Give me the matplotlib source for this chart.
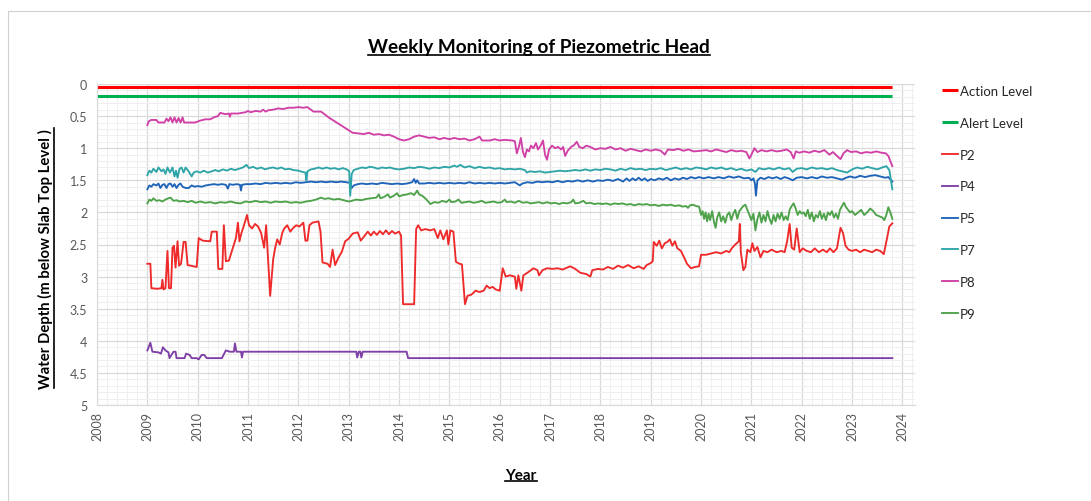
import matplotlib
matplotlib.use("Agg")
import matplotlib.pyplot as plt
from matplotlib.ticker import MultipleLocator
from matplotlib.lines import Line2D
from matplotlib.patches import Rectangle

plt.rcParams['font.family'] = ['Lato', 'DejaVu Sans']

# ---------------- data ----------------
action_years = [2008.0, 2023.8]
action_level = [0.04, 0.04]
alert_years = [2008.0, 2023.8]
alert_level = [0.18, 0.18]

P2 = [(2009.00,2.80),(2009.06,2.80),(2009.08,3.18),(2009.20,3.19),(2009.28,3.18),(2009.30,3.05),(2009.32,3.20),(2009.36,3.18),(2009.40,2.60),(2009.43,3.18),(2009.47,3.18),(2009.50,2.55),(2009.53,2.52),(2009.56,2.86),(2009.60,2.45),(2009.63,2.83),(2009.67,2.80),(2009.72,2.46),(2009.76,2.46),(2009.80,2.82),(2009.86,2.83),(2009.93,2.84),(2009.98,2.85),(2010.02,2.40),(2010.10,2.44),(2010.25,2.45),(2010.28,2.30),(2010.38,2.30),(2010.41,2.88),(2010.49,2.88),(2010.52,2.20),(2010.56,2.76),(2010.62,2.75),(2010.66,2.65),(2010.72,2.50),(2010.76,2.40),(2010.80,2.16),(2010.83,2.45),(2010.87,2.32),(2010.92,2.20),(2010.98,2.04),(2011.02,2.20),(2011.08,2.25),(2011.14,2.18),(2011.20,2.22),(2011.26,2.32),(2011.32,2.55),(2011.36,2.20),(2011.44,3.30),(2011.50,2.73),(2011.54,2.55),(2011.58,2.42),(2011.63,2.50),(2011.68,2.32),(2011.72,2.25),(2011.78,2.20),(2011.84,2.30),(2011.90,2.24),(2011.96,2.20),(2012.02,2.22),(2012.10,2.16),(2012.14,2.44),(2012.18,2.44),(2012.22,2.20),(2012.28,2.16),(2012.40,2.14),(2012.44,2.30),(2012.48,2.78),(2012.58,2.80),(2012.63,2.85),(2012.68,2.58),(2012.73,2.82),(2012.80,2.70),(2012.86,2.62),(2012.93,2.45),(2013.00,2.41),(2013.08,2.33),(2013.18,2.31),(2013.24,2.44),(2013.32,2.36),(2013.38,2.30),(2013.44,2.36),(2013.50,2.30),(2013.56,2.35),(2013.62,2.29),(2013.68,2.34),(2013.74,2.28),(2013.80,2.34),(2013.86,2.29),(2013.92,2.33),(2014.00,2.30),(2014.04,2.36),(2014.08,3.43),(2014.30,3.43),(2014.34,2.26),(2014.38,2.20),(2014.44,2.28),(2014.52,2.26),(2014.62,2.28),(2014.70,2.26),(2014.77,2.40),(2014.82,2.28),(2014.88,2.42),(2014.95,2.28),(2014.98,2.50),(2015.02,2.28),(2015.08,2.30),(2015.13,2.77),(2015.20,2.80),(2015.25,2.81),(2015.31,3.43),(2015.36,3.30),(2015.44,3.28),(2015.52,3.22),(2015.60,3.24),(2015.68,3.22),(2015.74,3.14),(2015.80,3.18),(2015.86,3.16),(2015.92,3.20),(2016.00,3.22),(2016.06,2.87),(2016.12,3.00),(2016.20,2.98),(2016.30,3.00),(2016.33,3.19),(2016.37,2.98),(2016.43,3.22),(2016.47,2.98),(2016.55,2.94),(2016.67,2.87),(2016.75,2.90),(2016.78,2.98),(2016.85,2.90),(2016.94,2.87),(2017.05,2.88),(2017.15,2.87),(2017.25,2.89),(2017.40,2.84),(2017.50,2.88),(2017.60,2.94),(2017.72,2.96),(2017.80,3.00),(2017.84,2.90),(2017.95,2.88),(2018.05,2.89),(2018.15,2.85),(2018.25,2.88),(2018.35,2.83),(2018.45,2.86),(2018.55,2.82),(2018.66,2.87),(2018.76,2.84),(2018.86,2.88),(2018.92,2.82),(2019.00,2.79),(2019.04,2.76),(2019.06,2.46),(2019.12,2.52),(2019.17,2.44),(2019.22,2.56),(2019.28,2.48),(2019.33,2.46),(2019.38,2.42),(2019.43,2.52),(2019.48,2.45),(2019.53,2.56),(2019.60,2.60),(2019.65,2.68),(2019.72,2.80),(2019.80,2.87),(2019.88,2.85),(2019.96,2.84),(2020.00,2.66),(2020.10,2.66),(2020.20,2.64),(2020.30,2.62),(2020.40,2.64),(2020.50,2.60),(2020.56,2.62),(2020.62,2.55),(2020.68,2.50),(2020.75,2.45),(2020.77,2.18),(2020.79,2.62),(2020.84,2.90),(2020.88,2.85),(2020.92,2.58),(2020.98,2.62),(2021.02,2.48),(2021.06,2.60),(2021.12,2.54),(2021.18,2.70),(2021.24,2.60),(2021.32,2.62),(2021.40,2.58),(2021.50,2.62),(2021.60,2.60),(2021.66,2.62),(2021.71,2.45),(2021.76,2.18),(2021.80,2.55),(2021.85,2.58),(2021.90,2.25),(2021.96,2.62),(2022.02,2.56),(2022.10,2.60),(2022.18,2.62),(2022.26,2.56),(2022.34,2.62),(2022.42,2.58),(2022.50,2.62),(2022.56,2.56),(2022.63,2.62),(2022.70,2.56),(2022.77,2.24),(2022.82,2.32),(2022.87,2.52),(2022.93,2.58),(2023.00,2.60),(2023.08,2.58),(2023.16,2.62),(2023.24,2.58),(2023.32,2.60),(2023.40,2.62),(2023.48,2.58),(2023.56,2.60),(2023.63,2.65),(2023.67,2.50),(2023.70,2.38),(2023.74,2.22),(2023.80,2.17)]

P4 = [(2009.00,4.15),(2009.06,4.03),(2009.10,4.17),(2009.22,4.18),(2009.27,4.20),(2009.31,4.10),(2009.36,4.15),(2009.42,4.18),(2009.44,4.27),(2009.48,4.22),(2009.52,4.17),(2009.56,4.17),(2009.58,4.27),(2009.74,4.27),(2009.77,4.20),(2009.84,4.22),(2009.88,4.27),(2009.98,4.27),(2010.02,4.29),(2010.08,4.22),(2010.13,4.22),(2010.18,4.27),(2010.48,4.27),(2010.56,4.15),(2010.64,4.17),(2010.72,4.17),(2010.74,4.04),(2010.77,4.17),(2010.86,4.17),(2010.88,4.26),(2010.90,4.17),(2013.15,4.17),(2013.17,4.26),(2013.20,4.17),(2013.23,4.17),(2013.25,4.26),(2013.28,4.17),(2014.15,4.17),(2014.18,4.27),(2023.80,4.27)]

P5 = [(2009.00,1.64),(2009.04,1.58),(2009.08,1.60),(2009.12,1.56),(2009.18,1.58),(2009.22,1.55),(2009.26,1.62),(2009.30,1.57),(2009.34,1.56),(2009.38,1.62),(2009.42,1.56),(2009.46,1.55),(2009.50,1.60),(2009.54,1.56),(2009.58,1.62),(2009.62,1.57),(2009.66,1.55),(2009.70,1.60),(2009.76,1.62),(2009.82,1.62),(2009.88,1.58),(2009.94,1.60),(2010.00,1.59),(2010.08,1.60),(2010.16,1.58),(2010.24,1.57),(2010.32,1.56),(2010.40,1.57),(2010.48,1.56),(2010.56,1.57),(2010.60,1.63),(2010.63,1.56),(2010.70,1.57),(2010.78,1.56),(2010.84,1.57),(2010.86,1.66),(2010.88,1.57),(2010.96,1.56),(2011.05,1.56),(2011.15,1.55),(2011.25,1.56),(2011.35,1.54),(2011.45,1.55),(2011.55,1.54),(2011.65,1.55),(2011.75,1.54),(2011.85,1.55),(2011.95,1.53),(2012.05,1.54),(2012.15,1.53),(2012.25,1.52),(2012.35,1.53),(2012.45,1.52),(2012.55,1.53),(2012.65,1.52),(2012.75,1.53),(2012.85,1.52),(2012.95,1.53),(2013.03,1.54),(2013.06,1.62),(2013.10,1.58),(2013.18,1.56),(2013.26,1.55),(2013.36,1.56),(2013.46,1.55),(2013.56,1.56),(2013.66,1.54),(2013.76,1.55),(2013.86,1.56),(2013.96,1.55),(2014.06,1.56),(2014.16,1.55),(2014.26,1.53),(2014.30,1.48),(2014.33,1.54),(2014.36,1.50),(2014.40,1.55),(2014.50,1.55),(2014.60,1.54),(2014.70,1.55),(2014.80,1.54),(2014.90,1.55),(2015.00,1.54),(2015.10,1.55),(2015.20,1.54),(2015.30,1.55),(2015.40,1.53),(2015.50,1.55),(2015.60,1.54),(2015.70,1.55),(2015.80,1.54),(2015.90,1.55),(2016.00,1.54),(2016.10,1.55),(2016.20,1.54),(2016.30,1.53),(2016.40,1.58),(2016.45,1.55),(2016.55,1.53),(2016.65,1.54),(2016.75,1.52),(2016.85,1.53),(2016.95,1.52),(2017.05,1.53),(2017.15,1.51),(2017.25,1.53),(2017.35,1.51),(2017.45,1.52),(2017.55,1.50),(2017.65,1.52),(2017.75,1.50),(2017.85,1.52),(2017.95,1.50),(2018.05,1.51),(2018.15,1.49),(2018.25,1.51),(2018.35,1.48),(2018.45,1.52),(2018.52,1.47),(2018.58,1.51),(2018.64,1.47),(2018.70,1.50),(2018.76,1.46),(2018.82,1.50),(2018.88,1.47),(2018.94,1.51),(2019.00,1.48),(2019.08,1.50),(2019.16,1.47),(2019.24,1.49),(2019.32,1.46),(2019.40,1.50),(2019.48,1.47),(2019.56,1.49),(2019.64,1.46),(2019.72,1.48),(2019.80,1.45),(2019.88,1.47),(2019.96,1.45),(2020.05,1.47),(2020.15,1.45),(2020.25,1.47),(2020.35,1.45),(2020.45,1.47),(2020.55,1.44),(2020.65,1.46),(2020.75,1.44),(2020.85,1.47),(2020.95,1.46),(2021.00,1.50),(2021.04,1.47),(2021.07,1.55),(2021.09,1.74),(2021.12,1.50),(2021.18,1.46),(2021.26,1.48),(2021.34,1.45),(2021.42,1.47),(2021.50,1.45),(2021.58,1.48),(2021.66,1.45),(2021.74,1.47),(2021.82,1.50),(2021.90,1.46),(2022.00,1.45),(2022.10,1.47),(2022.20,1.45),(2022.30,1.47),(2022.40,1.44),(2022.50,1.46),(2022.60,1.45),(2022.70,1.47),(2022.80,1.49),(2022.88,1.46),(2022.96,1.44),(2023.06,1.46),(2023.16,1.43),(2023.26,1.45),(2023.36,1.43),(2023.46,1.42),(2023.56,1.44),(2023.66,1.46),(2023.72,1.45),(2023.80,1.52)]

P7 = [(2009.00,1.42),(2009.04,1.35),(2009.08,1.38),(2009.12,1.32),(2009.18,1.37),(2009.22,1.30),(2009.28,1.36),(2009.32,1.33),(2009.36,1.40),(2009.40,1.30),(2009.45,1.38),(2009.50,1.30),(2009.54,1.44),(2009.57,1.35),(2009.60,1.46),(2009.64,1.32),(2009.68,1.30),(2009.72,1.38),(2009.76,1.30),(2009.82,1.36),(2009.88,1.44),(2009.92,1.38),(2009.98,1.36),(2010.05,1.38),(2010.12,1.35),(2010.20,1.38),(2010.28,1.36),(2010.35,1.34),(2010.42,1.36),(2010.50,1.33),(2010.58,1.35),(2010.66,1.32),(2010.74,1.34),(2010.82,1.32),(2010.90,1.30),(2010.97,1.26),(2011.02,1.31),(2011.10,1.29),(2011.18,1.32),(2011.26,1.30),(2011.34,1.33),(2011.42,1.31),(2011.50,1.30),(2011.58,1.32),(2011.66,1.30),(2011.74,1.33),(2011.82,1.32),(2011.90,1.34),(2012.00,1.35),(2012.08,1.37),(2012.14,1.38),(2012.16,1.50),(2012.18,1.36),(2012.25,1.33),(2012.32,1.32),(2012.40,1.30),(2012.48,1.32),(2012.56,1.30),(2012.64,1.32),(2012.72,1.31),(2012.80,1.33),(2012.88,1.31),(2012.96,1.33),(2013.01,1.36),(2013.03,1.74),(2013.06,1.40),(2013.10,1.34),(2013.18,1.32),(2013.26,1.30),(2013.34,1.31),(2013.42,1.29),(2013.50,1.30),(2013.58,1.32),(2013.66,1.30),(2013.74,1.31),(2013.82,1.30),(2013.90,1.32),(2014.00,1.33),(2014.10,1.32),(2014.20,1.30),(2014.30,1.31),(2014.40,1.29),(2014.50,1.30),(2014.60,1.32),(2014.70,1.30),(2014.80,1.31),(2014.90,1.29),(2015.00,1.30),(2015.10,1.27),(2015.15,1.29),(2015.22,1.26),(2015.30,1.30),(2015.40,1.28),(2015.50,1.31),(2015.60,1.29),(2015.70,1.31),(2015.80,1.30),(2015.90,1.32),(2016.00,1.31),(2016.10,1.33),(2016.20,1.32),(2016.30,1.33),(2016.40,1.32),(2016.50,1.34),(2016.54,1.38),(2016.60,1.36),(2016.70,1.37),(2016.80,1.36),(2016.90,1.38),(2017.00,1.37),(2017.10,1.36),(2017.20,1.35),(2017.30,1.36),(2017.40,1.35),(2017.50,1.34),(2017.60,1.35),(2017.70,1.33),(2017.80,1.35),(2017.90,1.33),(2018.00,1.34),(2018.10,1.32),(2018.20,1.33),(2018.30,1.35),(2018.40,1.32),(2018.50,1.34),(2018.60,1.31),(2018.70,1.33),(2018.80,1.32),(2018.90,1.34),(2019.00,1.32),(2019.10,1.33),(2019.20,1.31),(2019.30,1.34),(2019.40,1.32),(2019.50,1.30),(2019.60,1.33),(2019.70,1.31),(2019.80,1.33),(2019.90,1.30),(2020.00,1.31),(2020.10,1.33),(2020.20,1.30),(2020.30,1.32),(2020.40,1.30),(2020.50,1.33),(2020.60,1.31),(2020.70,1.34),(2020.80,1.32),(2020.90,1.35),(2021.00,1.33),(2021.08,1.37),(2021.15,1.31),(2021.25,1.33),(2021.35,1.31),(2021.45,1.33),(2021.55,1.30),(2021.65,1.33),(2021.75,1.31),(2021.82,1.37),(2021.90,1.32),(2022.00,1.31),(2022.10,1.33),(2022.20,1.30),(2022.30,1.32),(2022.40,1.31),(2022.50,1.33),(2022.60,1.31),(2022.70,1.34),(2022.80,1.36),(2022.90,1.38),(2023.00,1.33),(2023.10,1.30),(2023.20,1.32),(2023.30,1.29),(2023.40,1.31),(2023.50,1.33),(2023.60,1.30),(2023.68,1.28),(2023.74,1.34),(2023.80,1.64)]

P8 = [(2009.00,0.64),(2009.03,0.58),(2009.08,0.56),(2009.18,0.56),(2009.22,0.60),(2009.34,0.60),(2009.38,0.54),(2009.42,0.58),(2009.46,0.52),(2009.50,0.60),(2009.54,0.52),(2009.58,0.60),(2009.62,0.53),(2009.66,0.60),(2009.70,0.52),(2009.73,0.60),(2009.95,0.60),(2010.05,0.57),(2010.15,0.55),(2010.25,0.55),(2010.32,0.52),(2010.40,0.50),(2010.45,0.45),(2010.55,0.47),(2010.62,0.46),(2010.64,0.51),(2010.66,0.46),(2010.80,0.46),(2010.95,0.44),(2011.00,0.42),(2011.05,0.44),(2011.15,0.42),(2011.25,0.43),(2011.30,0.40),(2011.35,0.43),(2011.40,0.41),(2011.50,0.40),(2011.60,0.38),(2011.70,0.39),(2011.80,0.37),(2011.90,0.37),(2012.00,0.36),(2012.10,0.37),(2012.18,0.36),(2012.25,0.40),(2012.30,0.43),(2012.45,0.43),(2012.52,0.47),(2012.60,0.52),(2012.70,0.57),(2012.80,0.62),(2012.90,0.67),(2013.00,0.72),(2013.08,0.76),(2013.20,0.77),(2013.30,0.78),(2013.40,0.76),(2013.50,0.79),(2013.60,0.78),(2013.70,0.80),(2013.80,0.79),(2013.90,0.82),(2014.00,0.86),(2014.10,0.88),(2014.20,0.86),(2014.30,0.82),(2014.40,0.80),(2014.50,0.82),(2014.60,0.84),(2014.70,0.83),(2014.80,0.86),(2014.90,0.84),(2015.00,0.86),(2015.10,0.84),(2015.20,0.86),(2015.30,0.85),(2015.40,0.88),(2015.50,0.86),(2015.60,0.82),(2015.65,0.88),(2015.80,0.88),(2015.90,0.86),(2016.00,0.88),(2016.10,0.87),(2016.25,0.88),(2016.30,0.89),(2016.34,1.08),(2016.38,0.98),(2016.42,0.84),(2016.46,1.05),(2016.50,1.14),(2016.54,1.02),(2016.58,1.05),(2016.62,0.96),(2016.67,1.00),(2016.72,0.92),(2016.76,1.02),(2016.82,0.95),(2016.86,0.88),(2016.90,1.10),(2016.94,1.18),(2016.98,1.02),(2017.04,0.96),(2017.10,1.00),(2017.16,0.98),(2017.22,1.02),(2017.26,0.98),(2017.30,1.12),(2017.35,1.04),(2017.42,0.98),(2017.48,0.95),(2017.53,0.90),(2017.58,0.98),(2017.65,1.00),(2017.72,0.96),(2017.80,0.98),(2017.90,1.02),(2018.00,1.00),(2018.10,1.01),(2018.20,0.98),(2018.30,1.02),(2018.40,1.00),(2018.50,1.04),(2018.60,1.01),(2018.70,1.03),(2018.80,1.05),(2018.90,1.02),(2019.00,1.04),(2019.10,1.02),(2019.20,1.04),(2019.28,1.10),(2019.34,1.02),(2019.45,1.03),(2019.55,1.01),(2019.65,1.04),(2019.75,1.02),(2019.85,1.05),(2020.00,1.04),(2020.10,1.03),(2020.20,1.05),(2020.30,1.02),(2020.40,1.04),(2020.50,1.06),(2020.60,1.03),(2020.70,1.05),(2020.80,1.04),(2020.90,1.06),(2020.96,1.16),(2021.00,1.10),(2021.06,1.00),(2021.12,1.06),(2021.20,1.03),(2021.30,1.05),(2021.40,1.03),(2021.50,1.05),(2021.60,1.04),(2021.70,1.02),(2021.78,1.06),(2021.84,1.16),(2021.88,1.05),(2021.95,1.07),(2022.05,1.05),(2022.15,1.07),(2022.25,1.04),(2022.35,1.06),(2022.45,1.03),(2022.55,1.10),(2022.62,1.06),(2022.70,1.12),(2022.77,1.17),(2022.83,1.08),(2022.90,1.03),(2022.98,1.06),(2023.08,1.05),(2023.18,1.08),(2023.28,1.06),(2023.38,1.07),(2023.48,1.05),(2023.58,1.07),(2023.67,1.08),(2023.72,1.12),(2023.76,1.20),(2023.80,1.28)]

P9 = [(2009.00,1.86),(2009.04,1.80),(2009.08,1.82),(2009.12,1.78),(2009.18,1.82),(2009.24,1.81),(2009.30,1.83),(2009.36,1.80),(2009.42,1.78),(2009.46,1.77),(2009.52,1.82),(2009.58,1.81),(2009.64,1.83),(2009.72,1.82),(2009.80,1.84),(2009.88,1.82),(2009.96,1.85),(2010.05,1.83),(2010.15,1.85),(2010.25,1.84),(2010.35,1.86),(2010.45,1.84),(2010.55,1.85),(2010.65,1.83),(2010.75,1.85),(2010.85,1.86),(2010.95,1.83),(2011.05,1.84),(2011.15,1.82),(2011.25,1.84),(2011.35,1.83),(2011.45,1.85),(2011.55,1.83),(2011.65,1.84),(2011.75,1.83),(2011.85,1.85),(2011.95,1.84),(2012.05,1.85),(2012.15,1.83),(2012.25,1.82),(2012.35,1.80),(2012.45,1.77),(2012.52,1.79),(2012.60,1.78),(2012.70,1.80),(2012.80,1.79),(2012.90,1.81),(2013.00,1.83),(2013.06,1.82),(2013.15,1.80),(2013.25,1.81),(2013.35,1.79),(2013.45,1.78),(2013.55,1.77),(2013.60,1.72),(2013.63,1.78),(2013.70,1.76),(2013.78,1.72),(2013.82,1.77),(2013.90,1.74),(2013.96,1.70),(2014.00,1.75),(2014.08,1.73),(2014.16,1.72),(2014.24,1.70),(2014.30,1.73),(2014.36,1.66),(2014.40,1.72),(2014.46,1.74),(2014.52,1.78),(2014.58,1.83),(2014.62,1.87),(2014.70,1.84),(2014.78,1.85),(2014.86,1.82),(2014.94,1.84),(2015.00,1.80),(2015.04,1.84),(2015.12,1.83),(2015.18,1.80),(2015.24,1.85),(2015.32,1.84),(2015.40,1.83),(2015.48,1.85),(2015.56,1.84),(2015.64,1.82),(2015.72,1.85),(2015.80,1.84),(2015.88,1.83),(2015.96,1.85),(2016.04,1.84),(2016.10,1.80),(2016.14,1.84),(2016.22,1.83),(2016.30,1.85),(2016.38,1.82),(2016.46,1.85),(2016.54,1.84),(2016.62,1.86),(2016.70,1.85),(2016.78,1.84),(2016.86,1.86),(2016.94,1.84),(2017.02,1.86),(2017.10,1.85),(2017.18,1.87),(2017.26,1.85),(2017.34,1.86),(2017.42,1.84),(2017.46,1.80),(2017.50,1.86),(2017.58,1.85),(2017.66,1.82),(2017.72,1.86),(2017.80,1.85),(2017.88,1.87),(2017.96,1.86),(2018.04,1.87),(2018.12,1.86),(2018.20,1.88),(2018.28,1.86),(2018.36,1.87),(2018.44,1.86),(2018.52,1.88),(2018.60,1.87),(2018.68,1.89),(2018.76,1.87),(2018.84,1.88),(2018.92,1.87),(2019.00,1.89),(2019.08,1.88),(2019.16,1.90),(2019.24,1.88),(2019.32,1.89),(2019.40,1.88),(2019.48,1.90),(2019.56,1.89),(2019.64,1.91),(2019.70,1.90),(2019.74,1.93),(2019.78,1.89),(2019.84,1.88),(2019.90,1.90),(2019.96,1.91),(2020.00,2.04),(2020.03,1.98),(2020.06,2.10),(2020.09,2.00),(2020.12,2.14),(2020.15,2.02),(2020.18,2.12),(2020.22,1.98),(2020.26,2.16),(2020.29,2.24),(2020.32,2.08),(2020.36,2.00),(2020.40,2.14),(2020.44,2.06),(2020.48,2.16),(2020.52,2.04),(2020.56,2.00),(2020.60,2.12),(2020.64,2.02),(2020.68,1.96),(2020.72,2.10),(2020.76,1.98),(2020.80,1.94),(2020.84,1.90),(2020.88,1.88),(2020.92,1.96),(2020.96,2.04),(2021.00,2.12),(2021.04,2.02),(2021.08,2.28),(2021.12,2.10),(2021.16,2.00),(2021.20,2.16),(2021.24,2.04),(2021.28,2.14),(2021.32,1.98),(2021.36,2.10),(2021.40,2.18),(2021.44,2.04),(2021.48,2.14),(2021.52,2.02),(2021.56,2.10),(2021.60,2.00),(2021.64,2.12),(2021.68,2.06),(2021.72,2.12),(2021.76,1.96),(2021.80,1.90),(2021.84,1.86),(2021.88,1.94),(2021.92,2.04),(2021.96,1.98),(2022.00,2.02),(2022.04,2.00),(2022.08,2.06),(2022.12,1.96),(2022.16,2.10),(2022.20,2.00),(2022.24,2.14),(2022.28,2.04),(2022.32,2.08),(2022.36,1.98),(2022.40,2.10),(2022.44,2.02),(2022.48,2.12),(2022.52,2.00),(2022.56,2.04),(2022.60,1.98),(2022.64,2.08),(2022.68,2.02),(2022.72,2.10),(2022.76,1.96),(2022.80,1.90),(2022.84,1.85),(2022.88,1.92),(2022.92,1.96),(2022.96,2.00),(2023.00,1.98),(2023.06,2.04),(2023.12,2.00),(2023.18,1.96),(2023.24,2.04),(2023.30,2.00),(2023.36,1.94),(2023.42,1.98),(2023.48,2.04),(2023.54,2.06),(2023.60,2.08),(2023.64,2.12),(2023.68,2.04),(2023.72,1.92),(2023.76,2.00),(2023.80,2.10)]

series_names = ["P2", "P4", "P5", "P7", "P8", "P9"]
series_data = [P2, P4, P5, P7, P8, P9]
series_colors = ["#EE2A2A", "#7E3FA6", "#1F64B8", "#2FA5A8", "#D040A6", "#4EA24A"]

x_ticks = list(range(2008, 2025))
y_ticks = [0, 0.5, 1, 1.5, 2, 2.5, 3, 3.5, 4, 4.5, 5]
y_tick_labels = ["0", "0.5", "1", "1.5", "2", "2.5", "3", "3.5", "4", "4.5", "5"]

# ---------------- figure ----------------
W, H = 1091, 502
fig = plt.figure(figsize=(W / 100, H / 100), dpi=100)
fig.patch.set_facecolor("white")

# chart border (Excel chart area)
fig.patches.append(Rectangle((8 / W, -0.05), 1.2, 1 - 12 / H + 0.05, transform=fig.transFigure,
                             fill=False, edgecolor="#d0d0d0", linewidth=0.8))

ax = fig.add_axes([97 / W, 1 - 406 / H, (915 - 97) / W, (406 - 85) / H])

ax.plot(action_years, action_level, color="#FF0000", lw=2.2, label="Action Level", solid_capstyle="butt")
ax.plot(alert_years, alert_level, color="#00B050", lw=2.2, label="Alert Level", solid_capstyle="butt")
for name, data, col in zip(series_names, series_data, series_colors):
    xs = [p[0] for p in data]
    ys = [p[1] for p in data]
    ax.plot(xs, ys, color=col, lw=1.35, label=name)

ax.set_xlim(2008, 2024.25)
ax.set_ylim(5, 0)
ax.set_xticks(x_ticks)
ax.set_xticklabels([str(t) for t in x_ticks], rotation=90)
ax.set_yticks(y_ticks)
ax.set_yticklabels(y_tick_labels)
ax.xaxis.set_minor_locator(MultipleLocator(0.2))
ax.yaxis.set_minor_locator(MultipleLocator(0.1))
ax.grid(which="major", color="#d9d9d9", lw=0.9)
ax.grid(which="minor", color="#efefef", lw=0.7)
ax.set_axisbelow(True)
for s in ["top", "right"]:
    ax.spines[s].set_visible(False)
for s in ["left", "bottom"]:
    ax.spines[s].set_color("#d9d9d9")
ax.tick_params(which="both", length=0, colors="#595959", labelsize=9)
ax.tick_params(axis="y", pad=7)
ax.tick_params(axis="x", pad=4)

leg = fig.legend(loc="upper left", bbox_to_anchor=(942 / W, 1 - 86 / H), frameon=False,
                 handlelength=1.25, handletextpad=0.1, labelspacing=1.5, fontsize=9.5,
                 borderaxespad=0, borderpad=0)
for t in leg.get_texts():
    t.set_color("#262626")

title = fig.text(539 / W, 1 - 48 / H, "Weekly Monitoring of Piezometric Head", ha="center", va="center",
                 fontsize=13.7, fontweight="bold", color="black")
ylab = fig.text(45 / W, 1 - 259 / H, "Water Depth (m below Slab Top Level )", ha="center", va="center",
                rotation=90, fontsize=10.7, fontweight="bold", color="black")
xlab = fig.text(521 / W, 1 - 476 / H, "Year", ha="center", va="center",
                fontsize=11, fontweight="bold", color="black")

# underlines
fig.canvas.draw()
r = fig.canvas.get_renderer()
inv = fig.transFigure.inverted()
for t, vertical in [(title, False), (xlab, False), (ylab, True)]:
    bb = t.get_window_extent(r)
    (x0, y0), (x1, y1) = inv.transform([(bb.x0, bb.y0), (bb.x1, bb.y1)])
    if vertical:
        xx = x1 + 1.0 / W
        fig.add_artist(Line2D([xx, xx], [y0, y1], transform=fig.transFigure, color="black", lw=1.2))
    else:
        yy = y0 + 1.0 / H
        fig.add_artist(Line2D([x0, x1], [yy, yy], transform=fig.transFigure, color="black", lw=1.2))

fig.savefig("out.png", dpi=100, facecolor="white")
